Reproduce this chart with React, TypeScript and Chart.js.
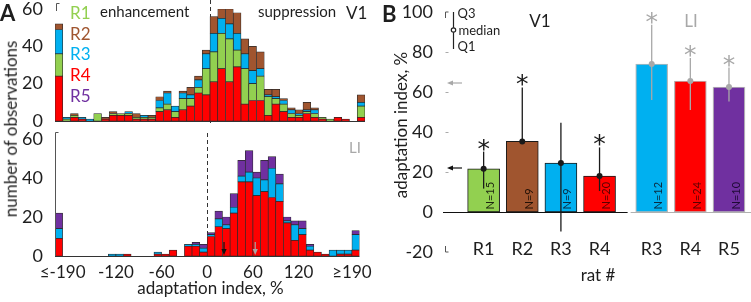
import React, { useEffect, useRef } from "react";
import { Chart, registerables } from "chart.js";

Chart.register(...registerables);

const FONT = "Lato, 'Open Sans', sans-serif";
const TEXT = "#1e1e1e";
const GRAY = "#a8a8a8";

const ratColor: Record<string, string> = {
  R1: "#92d050",
  R2: "#a0552f",
  R3: "#00b0f0",
  R4: "#ff0000",
  R5: "#7030a0",
};
const ratDark: Record<string, string> = {
  R1: "#1c2410",
  R2: "#221006",
  R3: "#0a2a40",
  R4: "#5a0000",
  R5: "#1e0a35",
};

// ---------- Panel A: histograms ----------
const binCenters = [-195, -185, -175, -165, -155, -145, -135, -125, -115, -105, -95, -85, -75, -65, -55, -45, -35, -25, -15, -5, 5, 15, 25, 35, 45, 55, 65, 75, 85, 95, 105, 115, 125, 135, 145, 155, 165, 175, 185, 195];
const histTickValues = [-190, -120, -60, 0, 60, 120, 190];
const histTickLabels = ["≤-190", "-120", "-60", "0", "60", "120", "≥190"];
const countTicks = [0, 20, 40, 60];

// V1 (stack order bottom -> top: R4, R1, R3, R2)
const v1R4 = [24, 0, 2, 1, 0, 0, 1, 3, 3, 3, 1, 1, 1, 5, 6, 2, 6, 8, 15, 14, 21, 28, 21, 29, 9, 11, 11, 3, 9, 5, 2, 2, 4, 2, 1, 0, 2, 1, 0, 2];
const v1R1 = [12, 1, 1, 0, 0, 4, 0, 1, 1, 1, 1, 1, 1, 2, 3, 3, 6, 4, 3, 14, 16, 19, 23, 9, 19, 9, 13, 10, 3, 4, 2, 1, 1, 2, 1, 1, 0, 0, 0, 6];
const v1R3 = [13, 1, 0, 1, 1, 0, 0, 0, 0, 1, 0, 1, 0, 4, 6, 3, 3, 2, 4, 8, 10, 8, 8, 9, 8, 7, 4, 1, 1, 2, 2, 1, 1, 2, 0, 0, 0, 0, 0, 2];
const v1R2 = [3, 0, 1, 0, 0, 0, 1, 1, 0, 0, 2, 0, 1, 2, 1, 0, 1, 4, 2, 2, 9, 5, 8, 11, 8, 13, 9, 3, 4, 1, 1, 2, 4, 1, 0, 0, 0, 0, 0, 4];

// LI (stack order bottom -> top: R4, R3, R5)
const liR4 = [9, 0, 0, 0, 0, 0, 0, 0, 0, 1, 0, 0, 0, 1, 1, 3, 0, 5, 5, 2, 10, 15, 14, 22, 38, 38, 31, 33, 30, 28, 17, 8, 11, 3, 2, 1, 0, 1, 1, 3];
const liR3 = [5, 0, 0, 0, 0, 0, 0, 1, 1, 0, 0, 0, 0, 1, 0, 0, 0, 1, 1, 2, 1, 4, 2, 3, 3, 5, 9, 6, 15, 9, 1, 8, 3, 2, 0, 0, 3, 2, 2, 8];
const liR5 = [8, 0, 0, 0, 0, 0, 0, 0, 0, 0, 0, 0, 0, 0, 0, 0, 0, 0, 1, 2, 1, 4, 4, 7, 8, 11, 3, 10, 6, 5, 2, 2, 4, 1, 0, 0, 0, 0, 0, 2];

const v1OverallMedian = 22;
const liOverallMedian = 63;

// ---------- Panel B: per-rat medians ----------
const v1Rats = ["R1", "R2", "R3", "R4"];
const v1Med = [21.6, 35.3, 24.5, 18];
const v1Q1 = [11.7, 34, -9.7, 10.5];
const v1Q3 = [30.2, 62.3, 44.6, 32.3];
const v1N = [15, 9, 9, 20];
const v1Sig = [true, true, false, true];

const liRats = ["R3", "R4", "R5"];
const liMed = [74, 65.5, 62.5];
const liQ1 = [56, 51, 55.2];
const liQ3 = [93.6, 77, 72.2];
const liN = [12, 24, 10];
const liSig = [true, true, true];

const bTicks = [-20, 0, 20, 40, 60, 80, 100];
const LI_START = 5.35;

const v1Pos = v1Rats.map((_, i) => i + 1);
const liPos = liRats.map((_, i) => i + LI_START);

function arrowDown(ctx: CanvasRenderingContext2D, x: number, y1: number, y2: number, color: string) {
  ctx.strokeStyle = color;
  ctx.fillStyle = color;
  ctx.lineWidth = 1.2;
  ctx.beginPath();
  ctx.moveTo(x, y1);
  ctx.lineTo(x, y2 - 4);
  ctx.stroke();
  ctx.beginPath();
  ctx.moveTo(x - 2.6, y2 - 6);
  ctx.lineTo(x + 2.6, y2 - 6);
  ctx.lineTo(x, y2);
  ctx.closePath();
  ctx.fill();
}

function arrowLeft(ctx: CanvasRenderingContext2D, x1: number, x2: number, y: number, color: string) {
  ctx.strokeStyle = color;
  ctx.fillStyle = color;
  ctx.lineWidth = 1.2;
  ctx.beginPath();
  ctx.moveTo(x2, y);
  ctx.lineTo(x1 + 4, y);
  ctx.stroke();
  ctx.beginPath();
  ctx.moveTo(x1 + 6, y - 2.6);
  ctx.lineTo(x1 + 6, y + 2.6);
  ctx.lineTo(x1, y);
  ctx.closePath();
  ctx.fill();
}

// y axis: labels offset from axis by an invisible tick length (keeps chart area top/bottom exact)
function yAxisBase(width: number) {
  return {
    ticks: {
      padding: 0,
      font: { family: FONT, size: 18, lineHeight: 1 },
      color: TEXT,
    },
    grid: { display: false, drawTicks: true, tickLength: 12 },
    border: { display: false },
    afterFit: (s: any) => {
      s.width = width;
    },
  };
}

function histConfig(series: { data: number[]; color: string }[], showX: boolean, decor: any): any {
  return {
    type: "bar",
    data: {
      labels: binCenters,
      datasets: series.map((s) => ({
        data: s.data,
        backgroundColor: s.color,
        borderColor: "#2a2a2a",
        borderWidth: 0.7,
        borderSkipped: false,
        barPercentage: 1,
        categoryPercentage: 1,
      })),
    },
    options: {
      animation: false,
      responsive: false,
      events: [],
      layout: { padding: { left: 0, right: 15, top: 9, bottom: showX ? 0 : 7 } },
      plugins: { legend: { display: false }, tooltip: { enabled: false } },
      scales: {
        x: {
          type: "linear",
          min: -200,
          max: 200,
          offset: false,
          stacked: true,
          display: showX,
          afterBuildTicks: (s: any) => {
            s.ticks = histTickValues.map((v) => ({ value: v }));
          },
          ticks: {
            callback: (_v: any, i: number) => histTickLabels[i],
            autoSkip: false,
            maxRotation: 0,
            padding: 8,
            font: { family: FONT, size: 17, lineHeight: 1 },
            color: TEXT,
          },
          grid: { display: false, drawTicks: false, offset: false },
          border: { display: false },
          afterFit: (s: any) => {
            if (showX) s.height = 46;
          },
        },
        y: {
          stacked: true,
          min: 0,
          max: 60,
          afterBuildTicks: (s: any) => {
            s.ticks = countTicks.map((v) => ({ value: v }));
          },
          ...yAxisBase(55),
        },
      },
    },
    plugins: [decor],
  };
}

const topDecor = {
  id: "topDecor",
  beforeDatasetsDraw(chart: any) {
    const { ctx, chartArea: a, scales } = chart;
    const x0 = Math.round(scales.x.getPixelForValue(0)) + 0.5;
    ctx.save();
    ctx.strokeStyle = "#333";
    ctx.lineWidth = 1;
    ctx.setLineDash([4, 3]);
    ctx.beginPath();
    ctx.moveTo(x0, 0);
    ctx.lineTo(x0, a.bottom + 5);
    ctx.stroke();
    ctx.restore();
  },
  afterDatasetsDraw(chart: any) {
    const { ctx, chartArea: a } = chart;
    ctx.save();
    ctx.strokeStyle = "#333";
    ctx.lineWidth = 1;
    ctx.beginPath();
    ctx.moveTo(a.left, a.bottom + 0.5);
    ctx.lineTo(a.right, a.bottom + 0.5);
    ctx.stroke();
    const lx = Math.round(a.left) + 1.5;
    ctx.strokeStyle = "#555";
    ctx.beginPath();
    ctx.moveTo(lx + 3, 3.5);
    ctx.lineTo(lx, 3.5);
    ctx.lineTo(lx, 11);
    ctx.stroke();
    ctx.restore();
  },
};

const bottomDecor = {
  id: "bottomDecor",
  beforeDatasetsDraw(chart: any) {
    const { ctx, chartArea: a, scales } = chart;
    const x0 = Math.round(scales.x.getPixelForValue(0)) + 0.5;
    ctx.save();
    ctx.strokeStyle = "#333";
    ctx.lineWidth = 1;
    ctx.setLineDash([4, 3]);
    ctx.beginPath();
    ctx.moveTo(x0, 3);
    ctx.lineTo(x0, a.bottom);
    ctx.stroke();
    ctx.restore();
  },
  afterDatasetsDraw(chart: any) {
    const { ctx, chartArea: a, scales } = chart;
    ctx.save();
    ctx.strokeStyle = "#333";
    ctx.lineWidth = 1;
    ctx.beginPath();
    ctx.moveTo(a.left, a.bottom + 0.5);
    ctx.lineTo(a.right, a.bottom + 0.5);
    ctx.stroke();
    const lx = Math.round(a.left) + 0.5;
    ctx.strokeStyle = "#555";
    ctx.beginPath();
    ctx.moveTo(lx + 3, 2.5);
    ctx.lineTo(lx, 2.5);
    ctx.lineTo(lx, a.bottom);
    ctx.stroke();
    arrowDown(ctx, scales.x.getPixelForValue(v1OverallMedian), a.bottom - 14, a.bottom - 1, "#111");
    arrowDown(ctx, scales.x.getPixelForValue(liOverallMedian), a.bottom - 14, a.bottom - 1, GRAY);
    ctx.restore();
  },
};

function drawStar(ctx: CanvasRenderingContext2D, x: number, cy: number, color: string) {
  ctx.font = `25px 'DejaVu Sans', sans-serif`;
  ctx.fillStyle = color;
  ctx.textAlign = "center";
  ctx.textBaseline = "alphabetic";
  const m = ctx.measureText("*");
  const asc = m.actualBoundingBoxAscent || 19;
  const desc = m.actualBoundingBoxDescent || -8;
  ctx.fillText("*", x, cy + (asc - desc) / 2);
}

const bDecor = {
  id: "bDecor",
  afterDatasetsDraw(chart: any) {
    const { ctx, chartArea: a, scales } = chart;
    const xs = scales.x;
    const ys = scales.y;
    ctx.save();
    // axis marks
    const lx = Math.round(a.left) + 0.5;
    ctx.lineWidth = 1;
    ctx.strokeStyle = "#555";
    const yTop = ys.getPixelForValue(100);
    const yBot = ys.getPixelForValue(-20);
    ctx.beginPath();
    ctx.moveTo(lx + 3, yTop);
    ctx.lineTo(lx, yTop);
    ctx.lineTo(lx, yTop + 6);
    ctx.moveTo(lx, yBot - 6);
    ctx.lineTo(lx, yBot);
    ctx.lineTo(lx + 3, yBot);
    ctx.stroke();
    ctx.strokeStyle = "#aaa";
    ctx.beginPath();
    bTicks.slice(1, -1).forEach((v) => {
      const y = Math.round(ys.getPixelForValue(v)) + 0.5;
      ctx.moveTo(lx, y);
      ctx.lineTo(lx + 3, y);
    });
    ctx.stroke();

    // baselines
    const y0 = Math.round(ys.getPixelForValue(0)) + 0.5;
    const xMid = xs.getPixelForValue((v1Pos[v1Pos.length - 1] + liPos[0]) / 2);
    ctx.strokeStyle = "#111";
    ctx.lineWidth = 1.2;
    ctx.beginPath();
    ctx.moveTo(a.left - 2, y0);
    ctx.lineTo(xMid + 2, y0);
    ctx.stroke();
    ctx.strokeStyle = "#b0b0b0";
    ctx.beginPath();
    ctx.moveTo(xMid + 5, y0);
    ctx.lineTo(a.right, y0);
    ctx.stroke();

    const groups = [
      { pos: v1Pos, rats: v1Rats, med: v1Med, q1: v1Q1, q3: v1Q3, n: v1N, sig: v1Sig, color: "#1a1a1a" },
      { pos: liPos, rats: liRats, med: liMed, q1: liQ1, q3: liQ3, n: liN, sig: liSig, color: GRAY },
    ];
    const labelY = ys.getPixelForValue(-18.8);
    groups.forEach((g) => {
      g.pos.forEach((p, i) => {
        const x = xs.getPixelForValue(p);
        // N label
        ctx.save();
        ctx.translate(x + 7, y0 - 3);
        ctx.rotate(-Math.PI / 2);
        ctx.font = `11px ${FONT}`;
        ctx.fillStyle = ratDark[g.rats[i]];
        ctx.textAlign = "left";
        ctx.textBaseline = "middle";
        ctx.fillText(`N=${g.n[i]}`, 0, 0);
        ctx.restore();
        // whisker
        ctx.strokeStyle = g.color;
        ctx.lineWidth = 1.3;
        ctx.beginPath();
        ctx.moveTo(x, ys.getPixelForValue(g.q1[i]));
        ctx.lineTo(x, ys.getPixelForValue(g.q3[i]));
        ctx.stroke();
        ctx.fillStyle = g.color;
        ctx.beginPath();
        ctx.arc(x, ys.getPixelForValue(g.med[i]), 3, 0, Math.PI * 2);
        ctx.fill();
        if (g.sig[i]) drawStar(ctx, x, ys.getPixelForValue(g.q3[i]) - 7, g.color);
        // category label
        ctx.fillStyle = TEXT;
        ctx.font = `18px ${FONT}`;
        ctx.textAlign = "center";
        ctx.textBaseline = "middle";
        ctx.fillText(g.rats[i], x, labelY);
      });
    });

    // overall medians on axis
    arrowLeft(ctx, a.left + 2, a.left + 17, ys.getPixelForValue(v1OverallMedian), "#111");
    arrowLeft(ctx, a.left + 2, a.left + 17, ys.getPixelForValue(liOverallMedian + 1.5), GRAY);

    // inset key
    const kx = Math.round(a.left + 8) + 0.5;
    ctx.strokeStyle = "#222";
    ctx.lineWidth = 1.2;
    ctx.beginPath();
    ctx.moveTo(kx, 12);
    ctx.lineTo(kx, 49);
    ctx.stroke();
    ctx.fillStyle = "#fff";
    ctx.beginPath();
    ctx.arc(kx, 30, 2.2, 0, Math.PI * 2);
    ctx.fill();
    ctx.stroke();
    ctx.fillStyle = TEXT;
    ctx.font = `13px ${FONT}`;
    ctx.textAlign = "left";
    ctx.textBaseline = "middle";
    ctx.fillText("Q3", kx + 4, 14);
    ctx.fillText("median", kx + 5, 30.5);
    ctx.fillText("Q1", kx + 4, 47);
    ctx.restore();
  },
};

function bConfig(): any {
  return {
    type: "bar",
    data: {
      datasets: [
        {
          data: v1Pos.map((x, i) => ({ x, y: v1Med[i] })),
          backgroundColor: v1Rats.map((r) => ratColor[r]),
          borderColor: "#1a1a1a",
          borderWidth: 1,
          borderSkipped: false,
          barThickness: 32,
          grouped: false,
        },
        {
          data: liPos.map((x, i) => ({ x, y: liMed[i] })),
          backgroundColor: liRats.map((r) => ratColor[r]),
          borderColor: "#b8b8b8",
          borderWidth: 1.2,
          borderSkipped: false,
          barThickness: 32,
          grouped: false,
        },
      ],
    },
    options: {
      animation: false,
      responsive: false,
      events: [],
      layout: { padding: { left: 0, right: 0, top: 12, bottom: 50 } },
      plugins: { legend: { display: false }, tooltip: { enabled: false } },
      scales: {
        x: {
          type: "linear",
          min: 0,
          max: 7.92,
          offset: false,
          grid: { offset: false },
          display: false,
        },
        y: {
          min: -20,
          max: 100,
          afterBuildTicks: (s: any) => {
            s.ticks = bTicks.map((v) => ({ value: v }));
          },
          ...yAxisBase(65),
        },
      },
    },
    plugins: [bDecor],
  };
}

function ChartCanvas(props: { left: number; top: number; width: number; height: number; make: () => any }) {
  const ref = useRef<HTMLCanvasElement>(null);
  useEffect(() => {
    const chart = new Chart(ref.current as HTMLCanvasElement, props.make());
    return () => chart.destroy();
  }, []);
  return (
    <canvas
      ref={ref}
      width={props.width}
      height={props.height}
      style={{ position: "absolute", left: props.left, top: props.top, width: props.width, height: props.height }}
    />
  );
}

function Txt(props: {
  x: number;
  y: number;
  size: number;
  color?: string;
  bold?: boolean;
  align?: "left" | "center";
  rotate?: boolean;
  children: React.ReactNode;
}) {
  const tx = props.align === "left" ? "0" : "-50%";
  return (
    <div
      style={{
        position: "absolute",
        left: props.x,
        top: props.y,
        transform: `translate(${tx}, -50%)${props.rotate ? " rotate(-90deg)" : ""}`,
        transformOrigin: props.rotate ? "50% 50%" : undefined,
        fontFamily: FONT,
        fontSize: props.size,
        lineHeight: 1.2,
        fontWeight: props.bold ? 700 : 400,
        color: props.color || TEXT,
        whiteSpace: "nowrap",
      }}
    >
      {props.children}
    </div>
  );
}

export default function App() {
  return (
    <div style={{ position: "fixed", left: 0, top: 0, width: 751, height: 302, background: "#fff", overflow: "hidden" }}>
      <ChartCanvas
        left={0}
        top={0}
        width={380}
        height={130}
        make={() =>
          histConfig(
            [
              { data: v1R4, color: ratColor.R4 },
              { data: v1R1, color: ratColor.R1 },
              { data: v1R3, color: ratColor.R3 },
              { data: v1R2, color: ratColor.R2 },
            ],
            false,
            topDecor
          )
        }
      />
      <ChartCanvas
        left={0}
        top={130}
        width={380}
        height={172}
        make={() =>
          histConfig(
            [
              { data: liR4, color: ratColor.R4 },
              { data: liR3, color: ratColor.R3 },
              { data: liR5, color: ratColor.R5 },
            ],
            true,
            bottomDecor
          )
        }
      />
      <ChartCanvas left={380} top={0} width={371} height={302} make={bConfig} />

      {/* Panel A texts */}
      <Txt x={0} y={13} size={22} bold align="left">A</Txt>
      {["R1", "R2", "R3", "R4", "R5"].map((r, i) => (
        <Txt key={r} x={70} y={[13, 33.5, 54, 75, 95.5][i]} size={17} color={ratColor[r]} align="left">
          {r}
        </Txt>
      ))}
      <Txt x={100} y={11} size={15} align="left">enhancement</Txt>
      <Txt x={258} y={11} size={15} align="left">suppression</Txt>
      <Txt x={346} y={12.5} size={17} align="left">V1</Txt>
      <Txt x={349} y={147} size={15} color={GRAY} align="left">LI</Txt>
      <Txt x={11} y={129} size={17} rotate>number of observations</Txt>
      <Txt x={210.5} y={288} size={17}>adaptation index, %</Txt>

      {/* Panel B texts */}
      <Txt x={382} y={14} size={22} bold align="left">B</Txt>
      <Txt x={540} y={21} size={17}>V1</Txt>
      <Txt x={691} y={21} size={17} color={GRAY}>LI</Txt>
      <Txt x={401} y={125} size={17} rotate>adaptation index, %</Txt>
      <Txt x={598} y={275} size={17}>rat #</Txt>
    </div>
  );
}
